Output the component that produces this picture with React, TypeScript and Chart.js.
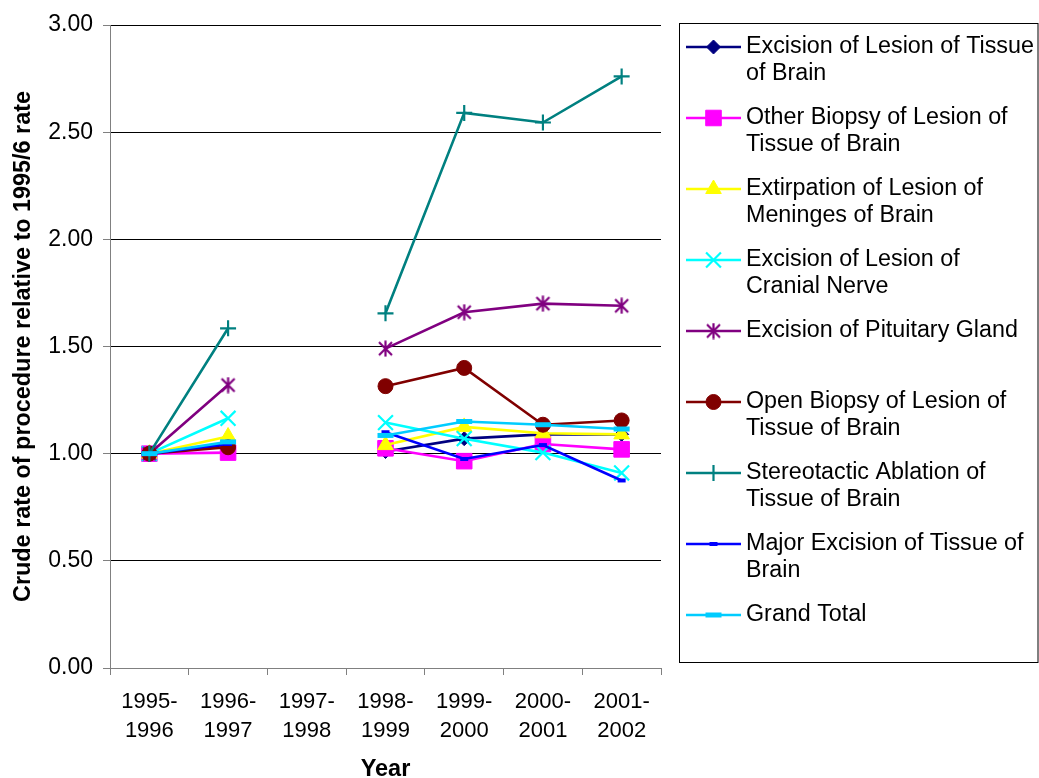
import React, { useEffect, useRef } from 'react';
import { Chart, registerables } from 'chart.js';
import { drawPoint } from 'chart.js/helpers';

Chart.register(...registerables);

const FONT = "'Liberation Sans', Arial, sans-serif";

const categories = ['1995-1996', '1996-1997', '1997-1998', '1998-1999', '1999-2000', '2000-2001', '2001-2002'];

const seriesNames = [
  'Excision of Lesion of Tissue of Brain',
  'Other Biopsy of Lesion of Tissue of Brain',
  'Extirpation of Lesion of Meninges of Brain',
  'Excision of Lesion of Cranial Nerve',
  'Excision of Pituitary Gland',
  'Open Biopsy of Lesion of Tissue of Brain',
  'Stereotactic Ablation of Tissue of Brain',
  'Major Excision of Tissue of Brain',
  'Grand Total',
];

const legendLines = [
  ['Excision of Lesion of Tissue', 'of Brain'],
  ['Other Biopsy of Lesion of', 'Tissue of Brain'],
  ['Extirpation of Lesion of', 'Meninges of Brain'],
  ['Excision of Lesion of', 'Cranial Nerve'],
  ['Excision of Pituitary Gland'],
  ['Open Biopsy of Lesion of', 'Tissue of Brain'],
  ['Stereotactic Ablation of', 'Tissue of Brain'],
  ['Major Excision of Tissue of', 'Brain'],
  ['Grand Total'],
];

const excisionLesionTissue = [1.0, 1.04, null, 1.01, 1.07, 1.09, 1.09];
const otherBiopsy = [1.0, 1.005, null, 1.025, 0.965, 1.045, 1.02];
const extirpationMeninges = [1.0, 1.08, null, 1.04, 1.125, 1.095, 1.09];
const excisionCranialNerve = [1.0, 1.165, null, 1.145, 1.07, 1.005, 0.91];
const excisionPituitary = [1.0, 1.32, null, 1.49, 1.66, 1.7, 1.69];
const openBiopsy = [1.0, 1.03, null, 1.315, 1.4, 1.135, 1.155];
const stereotacticAblation = [1.0, 1.585, null, 1.655, 2.59, 2.545, 2.76];
const majorExcision = [1.0, 1.045, null, 1.1, 0.975, 1.04, 0.875];
const grandTotal = [1.0, 1.055, null, 1.085, 1.15, 1.135, 1.115];

const seriesValues = [
  excisionLesionTissue,
  otherBiopsy,
  extirpationMeninges,
  excisionCranialNerve,
  excisionPituitary,
  openBiopsy,
  stereotacticAblation,
  majorExcision,
  grandTotal,
];

const seriesColors = ['#000080', '#FF00FF', '#FFFF00', '#00FFFF', '#800080', '#800000', '#008080', '#0000FF', '#00CCFF'];

function makeAsterisk(color: string) {
  const c = document.createElement('canvas');
  c.width = 17;
  c.height = 17;
  const g = c.getContext('2d')!;
  g.strokeStyle = color;
  g.lineWidth = 2.2;
  g.lineCap = 'butt';
  g.beginPath();
  g.moveTo(2, 2); g.lineTo(15, 15);
  g.moveTo(15, 2); g.lineTo(2, 15);
  g.moveTo(8.5, 0.5); g.lineTo(8.5, 16.5);
  g.stroke();
  return c;
}

const legendPlugin = {
  id: 'excelLegend',
  afterDraw(chart: any) {
    const ctx = chart.ctx as CanvasRenderingContext2D;
    const area = chart.chartArea;
    const boxX = area.right + 18;
    const boxY = area.top - 2;
    ctx.save();
    ctx.strokeStyle = '#000';
    ctx.lineWidth = 1;
    ctx.strokeRect(Math.round(boxX) + 0.5, Math.round(boxY) + 0.5, chart.width - boxX - 1.5, 639);
    chart.data.datasets.forEach((ds: any, i: number) => {
      const y = boxY + 24 + 71 * i;
      const x0 = boxX + 7;
      const x1 = boxX + 62;
      ctx.strokeStyle = ds.borderColor;
      ctx.lineWidth = ds.borderWidth;
      ctx.beginPath();
      ctx.moveTo(x0, y);
      ctx.lineTo(x1, y);
      ctx.stroke();
      ctx.fillStyle = ds.pointBackgroundColor;
      ctx.strokeStyle = ds.pointBorderColor;
      ctx.lineWidth = ds.pointBorderWidth;
      drawPoint(ctx, { pointStyle: ds.pointStyle, radius: ds.pointRadius, borderWidth: ds.pointBorderWidth, rotation: 0 } as any, (x0 + x1) / 2, y);
      ctx.fillStyle = '#000';
      ctx.font = `23.3px ${FONT}`;
      ctx.textBaseline = 'middle';
      ctx.textAlign = 'left';
      legendLines[i].forEach((line, k) => {
        ctx.fillText(line, boxX + 67, y + 27 * k);
      });
    });
    ctx.restore();
  },
};

export default function App() {
  const ref = useRef<HTMLCanvasElement>(null);

  useEffect(() => {
    const star = makeAsterisk('#800080');
    const markerStyles: any[] = [
      { pointStyle: 'rectRot', pointRadius: 7, pointBorderWidth: 1 },
      { pointStyle: 'rect', pointRadius: 11, pointBorderWidth: 1 },
      { pointStyle: 'triangle', pointRadius: 9, pointBorderWidth: 1 },
      { pointStyle: 'crossRot', pointRadius: 10.5, pointBorderWidth: 2.2 },
      { pointStyle: star, pointRadius: 8, pointBorderWidth: 0 },
      { pointStyle: 'circle', pointRadius: 7.5, pointBorderWidth: 1 },
      { pointStyle: 'cross', pointRadius: 8, pointBorderWidth: 2.2 },
      { pointStyle: 'line', pointRadius: 4, pointBorderWidth: 4 },
      { pointStyle: 'line', pointRadius: 8, pointBorderWidth: 5 },
    ];
    const n = seriesNames.length;
    const datasets = seriesNames.map((name, i) => ({
      label: name,
      data: seriesValues[i],
      borderColor: seriesColors[i],
      backgroundColor: seriesColors[i],
      pointBackgroundColor: seriesColors[i],
      pointBorderColor: seriesColors[i],
      borderWidth: 2.6,
      tension: 0,
      spanGaps: false,
      order: n - 1 - i,
      ...markerStyles[i],
    }));

    const chart = new Chart(ref.current!, {
      type: 'line',
      data: { labels: categories, datasets },
      plugins: [legendPlugin],
      options: {
        responsive: false,
        animation: false,
        devicePixelRatio: 1,
        layout: { padding: { top: 25, right: 378, bottom: 0, left: 0 } },
        plugins: {
          legend: { display: false },
          tooltip: { enabled: false },
        },
        scales: {
          x: {
            type: 'category',
            offset: true,
            ticks: {
              autoSkip: false,
              maxRotation: 0,
              minRotation: 0,
              padding: 13,
              color: '#000',
              font: { size: 22, family: FONT, lineHeight: 1.3 },
              callback: (_v: any, i: number) => {
                const s = categories[i];
                const k = s.indexOf('-');
                return [s.slice(0, k + 1), s.slice(k + 1)];
              },
            },
            grid: {
              offset: true,
              drawOnChartArea: false,
              drawTicks: true,
              tickLength: 7,
              color: '#808080',
              tickColor: '#808080',
            },
            border: { color: '#808080', width: 1 },
            title: {
              display: true,
              text: 'Year',
              color: '#000',
              font: { size: 23.5, weight: 'bold', family: FONT, lineHeight: 0.7 },
              padding: { top: 0, bottom: 0 },
            },
            afterFit: (s: any) => { s.height = 110; },
          },
          y: {
            min: 0,
            max: 3,
            ticks: {
              stepSize: 0.5,
              padding: 10,
              color: '#000',
              font: { size: 23, family: FONT },
              callback: (v: any) => Number(v).toFixed(2),
            },
            grid: {
              color: (c: any) => (c.tick && c.tick.value === 0 ? '#808080' : '#000000'),
              tickColor: '#808080',
              tickLength: 7,
              lineWidth: 1,
            },
            border: { color: '#808080', width: 1 },
            title: {
              display: true,
              text: 'Crude rate of procedure relative to 1995/6 rate',
              color: '#000',
              font: { size: 23.4, weight: 'bold', family: FONT, lineHeight: 1.2 },
              padding: { top: 10, bottom: 0 },
            },
            afterFit: (s: any) => { s.width = 110; },
          },
        },
      } as any,
    });
    return () => chart.destroy();
  }, []);

  return (
    <div style={{ position: 'absolute', left: 0, top: 0, width: 1039, height: 778, background: '#fff' }}>
      <canvas ref={ref} width={1039} height={778} style={{ display: 'block' }} />
    </div>
  );
}
